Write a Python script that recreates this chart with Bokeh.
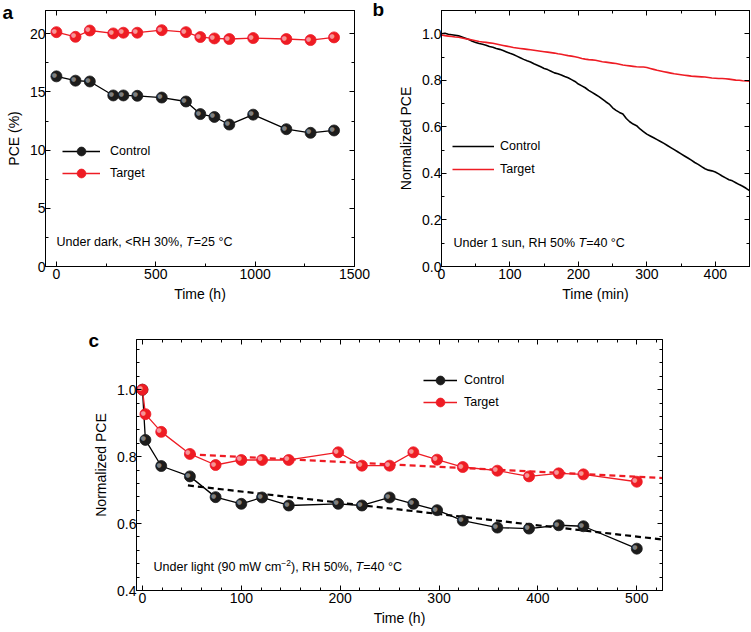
from bokeh.plotting import figure
from bokeh.layouts import column, row
from bokeh.models import (LinearAxis, SingleIntervalTicker, NumeralTickFormatter,
                          Label, Legend, LegendItem)
from bokeh.core.properties import value
from bokeh.embed import file_html
from bokeh.resources import INLINE

FONT = "Liberation Sans"
BLACK = "#000000"
RED = "#ee1c24"

# ---------------- data: panel a ----------------
a_time = [0, 96, 168, 286, 337, 407, 530, 652, 724, 795, 870, 990, 1157, 1279, 1397]
a_control = [16.34, 15.97, 15.9, 14.7, 14.7, 14.67, 14.52, 14.18, 13.1, 12.85, 12.2, 13.05, 11.8, 11.49, 11.69]
a_target = [20.14, 19.74, 20.28, 20.03, 20.09, 20.09, 20.31, 20.14, 19.72, 19.6, 19.55, 19.63, 19.55, 19.46, 19.69]

# ---------------- data: panel b ----------------
b_time = list(range(0, 451, 5))
b_control = [1.000, 1.002, 0.998, 0.996, 0.994, 0.991, 0.986, 0.981, 0.975, 0.968,
             0.963, 0.958, 0.955, 0.951, 0.945, 0.942, 0.937, 0.933, 0.928, 0.922,
             0.916, 0.911, 0.904, 0.897, 0.890, 0.884, 0.879, 0.871, 0.865, 0.858,
             0.851, 0.846, 0.839, 0.832, 0.828, 0.823, 0.816, 0.811, 0.803, 0.795,
             0.784, 0.776, 0.768, 0.757, 0.748, 0.739, 0.730, 0.719, 0.708, 0.698,
             0.682, 0.671, 0.662, 0.655, 0.636, 0.622, 0.612, 0.605, 0.591, 0.580,
             0.569, 0.561, 0.553, 0.545, 0.537, 0.529, 0.520, 0.511, 0.502, 0.493,
             0.484, 0.475, 0.466, 0.457, 0.447, 0.439, 0.429, 0.420, 0.414, 0.411,
             0.406, 0.398, 0.389, 0.381, 0.373, 0.368, 0.360, 0.352, 0.345, 0.336,
             0.326]
b_target = [0.995, 0.992, 0.990, 0.988, 0.986, 0.985, 0.982, 0.979, 0.976, 0.973,
            0.970, 0.967, 0.965, 0.963, 0.961, 0.959, 0.956, 0.953, 0.950, 0.947,
            0.944, 0.941, 0.939, 0.937, 0.935, 0.933, 0.931, 0.929, 0.927, 0.925,
            0.923, 0.921, 0.919, 0.917, 0.914, 0.912, 0.909, 0.906, 0.904, 0.901,
            0.898, 0.894, 0.891, 0.889, 0.888, 0.886, 0.883, 0.880, 0.878, 0.876,
            0.874, 0.872, 0.869, 0.866, 0.864, 0.862, 0.860, 0.858, 0.857, 0.857,
            0.855, 0.851, 0.847, 0.843, 0.840, 0.837, 0.834, 0.831, 0.828, 0.826,
            0.824, 0.822, 0.820, 0.818, 0.817, 0.816, 0.815, 0.814, 0.812, 0.810,
            0.809, 0.808, 0.808, 0.807, 0.805, 0.803, 0.801, 0.800, 0.798, 0.797,
            0.796]

# ---------------- data: panel c ----------------
c_time = [0, 3, 19, 48, 74, 100, 121, 148, 198, 222, 250, 274, 298, 324, 359, 391, 421, 446, 500]
c_control = [1.0, 0.850, 0.772, 0.741, 0.679, 0.659, 0.678, 0.654, 0.659, 0.654,
             0.678, 0.659, 0.640, 0.609, 0.588, 0.585, 0.595, 0.592, 0.525]
c_target = [1.0, 0.927, 0.874, 0.808, 0.775, 0.790, 0.790, 0.790, 0.813, 0.773,
            0.773, 0.813, 0.791, 0.769, 0.758, 0.741, 0.750, 0.747, 0.725]
c_fit_control_t = [46, 527]
c_fit_control = [0.714, 0.552]
c_fit_target_t = [48, 527]
c_fit_target = [0.807, 0.736]

# Arial / Liberation Sans advance widths (per 1000 em)
W = {' ': 278, ',': 278, '<': 584, '=': 584, '%': 889, '(': 333, ')': 333, '°': 400,
     '−': 584, '.': 278, 'A': 667, 'C': 722, 'H': 722, 'R': 722, 'T': 611, 'U': 722,
     'W': 944, 'a': 556, 'c': 500, 'd': 556, 'e': 556, 'g': 556, 'h': 556, 'i': 222,
     'k': 500, 'l': 222, 'm': 833, 'n': 556, 'r': 333, 's': 500, 't': 278, 'u': 556}


def tw(s, size):
    return sum(W.get(ch, 556) for ch in s) * size / 1000.0


def rich(p, x, y, parts):
    for text, size, style, dy in parts:
        p.add_layout(Label(x=x, y=y + dy, x_units="screen", y_units="screen", text=text,
                           text_font=FONT, text_font_size=f"{size}px", text_font_style=style,
                           text_baseline="middle", text_align="left", text_color="black"))
        x += tw(text, size)


def letter(p, t, offset, standoff):
    p.title.text = t
    p.title.align = "left"
    p.title.vertical_align = "bottom"
    p.title.offset = offset
    p.title.standoff = standoff
    p.title.text_font = FONT
    p.title.text_font_size = "19px"
    p.title.text_font_style = "bold"
    p.title.text_color = "black"


def make(width, height, xr, yr, borders, xt, yt, xlabel, ylabel, yfmt=None):
    l, r, t, b = borders
    p = figure(width=width, height=height, x_range=xr, y_range=yr, output_backend="svg",
               toolbar_location=None, min_border_left=l, min_border_right=r,
               min_border_top=t, min_border_bottom=b, x_axis_label=xlabel, y_axis_label=ylabel)
    p.grid.visible = False
    p.outline_line_color = "black"
    p.outline_line_width = 1
    p.xaxis.ticker = SingleIntervalTicker(interval=xt[0], num_minor_ticks=xt[1])
    p.yaxis.ticker = SingleIntervalTicker(interval=yt[0], num_minor_ticks=yt[1])
    if yfmt:
        p.yaxis.formatter = NumeralTickFormatter(format=yfmt)
    xa, ya = p.xaxis[0], p.yaxis[0]
    top = LinearAxis(ticker=SingleIntervalTicker(interval=xt[0], num_minor_ticks=xt[1]),
                     major_label_text_font_size="1px", major_label_text_color=None,
                     major_label_standoff=0)
    right = LinearAxis(ticker=SingleIntervalTicker(interval=yt[0], num_minor_ticks=yt[1]),
                       major_label_text_font_size="1px", major_label_text_color=None,
                       major_label_standoff=0)
    p.add_layout(top, "above")
    p.add_layout(right, "right")
    for ax in (xa, ya, top, right):
        ax.major_tick_in = 5
        ax.major_tick_out = 0
        ax.minor_tick_in = 3
        ax.minor_tick_out = 0
        ax.axis_line_color = "black"
        ax.major_tick_line_color = "black"
        ax.minor_tick_line_color = "black"
    for ax in (xa, ya):
        ax.major_label_text_font = FONT
        ax.major_label_text_font_size = "14px"
        ax.major_label_text_color = "black"
        ax.axis_label_text_font = FONT
        ax.axis_label_text_font_size = "14px"
        ax.axis_label_text_font_style = "normal"
        ax.axis_label_text_color = "black"
    xa.major_label_standoff = 2
    xa.axis_label_standoff = 4
    ya.major_label_standoff = 0
    ya.axis_label_standoff = 5
    return p


def spheres(p, x, y, color, hl_alpha):
    r = p.scatter(x, y, size=11, fill_color=color, line_color=color, line_width=0.8)
    p.text(x=x, y=y, text=["●"] * len(x), text_font=value("DejaVu Sans"),
           text_font_size="6px", text_color="white", text_alpha=hl_alpha,
           text_align="center", text_baseline="middle", x_offset=-2, y_offset=-2)
    return r


def legend(p, items, loc, gw, standoff, spacing):
    lg = Legend(items=items, location=loc, border_line_color=None, background_fill_alpha=0,
                padding=0, margin=0, spacing=spacing, glyph_height=22, glyph_width=gw,
                label_height=20, label_standoff=standoff, label_text_font=FONT,
                label_text_font_size="12.5px", label_text_color="black")
    p.add_layout(lg)


# ---------------- panel a ----------------
pa = make(372, 310, (-55, 1500), (0, 22), (45, 18, 7, 44), (500, 2), (5, 2), "Time (h)", "PCE (%)")
la_c = pa.line(a_time, a_control, line_color=BLACK, line_width=1.3)
la_t = pa.line(a_time, a_target, line_color=RED, line_width=1.3)
ma_c = spheres(pa, a_time, a_control, "#1c1c1c", 0.45)
ma_t = spheres(pa, a_time, a_target, RED, 0.55)
legend(pa, [LegendItem(label="Control", renderers=[la_c, ma_c]),
            LegendItem(label="Target", renderers=[la_t, ma_t])], (17, 82), 38, 10, 0)
rich(pa, 11, 25, [("Under dark, <RH 30%, ", 12.5, "normal", 0), ("T", 12.5, "italic", 0),
                  ("=25 °C", 12.5, "normal", 0)])
letter(pa, "a", -43, -24)

# ---------------- panel b ----------------
pb = make(379, 310, (0, 450), (0, 1.1), (69, 2, 10, 44), (100, 2), (0.2, 2), "Time (min)",
          "Normalized PCE", yfmt="0.0")
lb_c = pb.line(b_time, b_control, line_color=BLACK, line_width=1.6)
lb_t = pb.line(b_time, b_target, line_color=RED, line_width=1.6)
legend(pb, [LegendItem(label="Control", renderers=[lb_c]),
            LegendItem(label="Target", renderers=[lb_t])], (11, 86), 42, 6, 1)
rich(pb, 12, 24, [("Under 1 sun, RH 50% ", 12.5, "normal", 0), ("T", 12.5, "italic", 0),
                  ("=40 °C", 12.5, "normal", 0)])
letter(pb, "b", -69, -18)

# ---------------- panel c ----------------
pc = make(672, 320, (-6, 526), (0.4, 1.15), (136, 10, 29, 40), (100, 5), (0.2, 5), "Time (h)",
          "Normalized PCE", yfmt="0.0")
lc_c = pc.line(c_time, c_control, line_color=BLACK, line_width=1.3)
lc_t = pc.line(c_time, c_target, line_color=RED, line_width=1.3)
pc.line(c_fit_control_t, c_fit_control, line_color=BLACK, line_width=2.2, line_dash="6 4")
pc.line(c_fit_target_t, c_fit_target, line_color=RED, line_width=2.2, line_dash="6 4")
mc_c = spheres(pc, c_time, c_control, "#1c1c1c", 0.45)
mc_t = spheres(pc, c_time, c_target, RED, 0.55)
legend(pc, [LegendItem(label="Control", renderers=[lc_c, mc_c]),
            LegendItem(label="Target", renderers=[lc_t, mc_t])], (287, 177), 34, 7, 0)
rich(pc, 17, 24, [("Under light (90 mW cm", 12.5, "normal", 0), ("−2", 8.5, "normal", 4),
                  ("), RH 50%, ", 12.5, "normal", 0), ("T", 12.5, "italic", 0),
                  ("=40 °C", 12.5, "normal", 0)])
letter(pc, "c", -48, -22)

layout = column(row(pa, pb, spacing=0), pc, spacing=0)
open("out.html", "w").write(file_html(layout, INLINE))
